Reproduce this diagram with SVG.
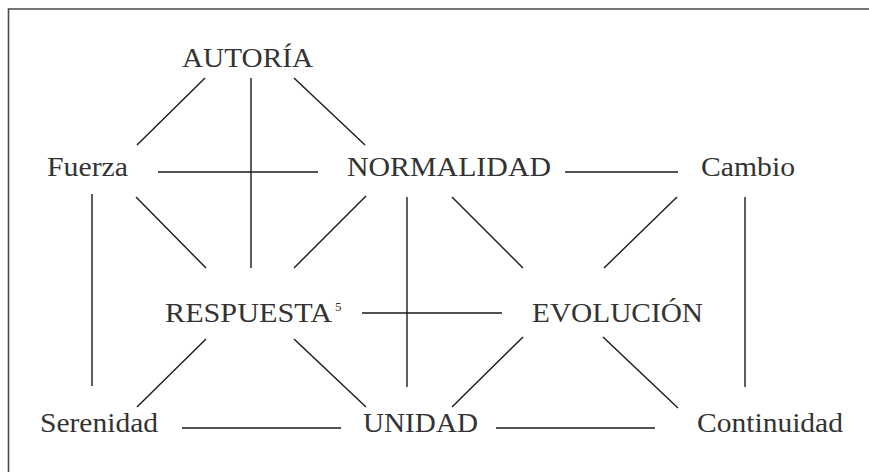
<svg xmlns="http://www.w3.org/2000/svg" width="869" height="472" viewBox="0 0 869 472">
<style>
.t{font-family:"Liberation Serif","Times New Roman",serif;font-size:28px;fill:#333}
.s{font-family:"Liberation Serif","Times New Roman",serif;font-size:13px;fill:#333}
#connectors line{stroke:#1a1a1a;stroke-width:1.4}
</style>
<rect width="869" height="472" fill="#fff"/>
<path d="M8.5,472 V9 H869" fill="none" stroke="#4a4a4a" stroke-width="1.6"/>
<g id="connectors">
<line x1="205" y1="78" x2="137" y2="145"/>
<line x1="251" y1="78" x2="251" y2="268"/>
<line x1="294" y1="78" x2="365" y2="145"/>
<line x1="158" y1="172" x2="318" y2="172"/>
<line x1="565" y1="172" x2="678" y2="172"/>
<line x1="92" y1="194" x2="92" y2="386"/>
<line x1="136" y1="197" x2="206" y2="268"/>
<line x1="366" y1="196" x2="294" y2="268"/>
<line x1="407" y1="197" x2="407" y2="387"/>
<line x1="452" y1="197" x2="523" y2="268"/>
<line x1="677" y1="197" x2="604" y2="268"/>
<line x1="745" y1="197" x2="745" y2="387"/>
<line x1="362" y1="313" x2="502" y2="313"/>
<line x1="206" y1="339" x2="137" y2="407"/>
<line x1="294" y1="339" x2="366" y2="407"/>
<line x1="523" y1="337" x2="452" y2="407"/>
<line x1="603" y1="337" x2="678" y2="408"/>
<line x1="182" y1="428" x2="341" y2="428"/>
<line x1="496" y1="428" x2="655" y2="428"/>
</g>
<g id="autoria"><text class="t" x="182" y="67" textLength="131" lengthAdjust="spacingAndGlyphs">AUTORÍA</text></g>
<g id="fuerza"><text class="t" x="47" y="176" textLength="81" lengthAdjust="spacingAndGlyphs">Fuerza</text></g>
<g id="normalidad"><text class="t" x="347" y="176" textLength="204" lengthAdjust="spacingAndGlyphs">NORMALIDAD</text></g>
<g id="cambio"><text class="t" x="701" y="176" textLength="94" lengthAdjust="spacingAndGlyphs">Cambio</text></g>
<g id="respuesta"><text class="t" x="165" y="322" textLength="167" lengthAdjust="spacingAndGlyphs">RESPUESTA</text><text class="s" x="335" y="311">5</text></g>
<g id="evolucion"><text class="t" x="532" y="322" textLength="171" lengthAdjust="spacingAndGlyphs">EVOLUCIÓN</text></g>
<g id="serenidad"><text class="t" x="40" y="432" textLength="118" lengthAdjust="spacingAndGlyphs">Serenidad</text></g>
<g id="unidad"><text class="t" x="363" y="432" textLength="115" lengthAdjust="spacingAndGlyphs">UNIDAD</text></g>
<g id="continuidad"><text class="t" x="697" y="432" textLength="146" lengthAdjust="spacingAndGlyphs">Continuidad</text></g>
</svg>
